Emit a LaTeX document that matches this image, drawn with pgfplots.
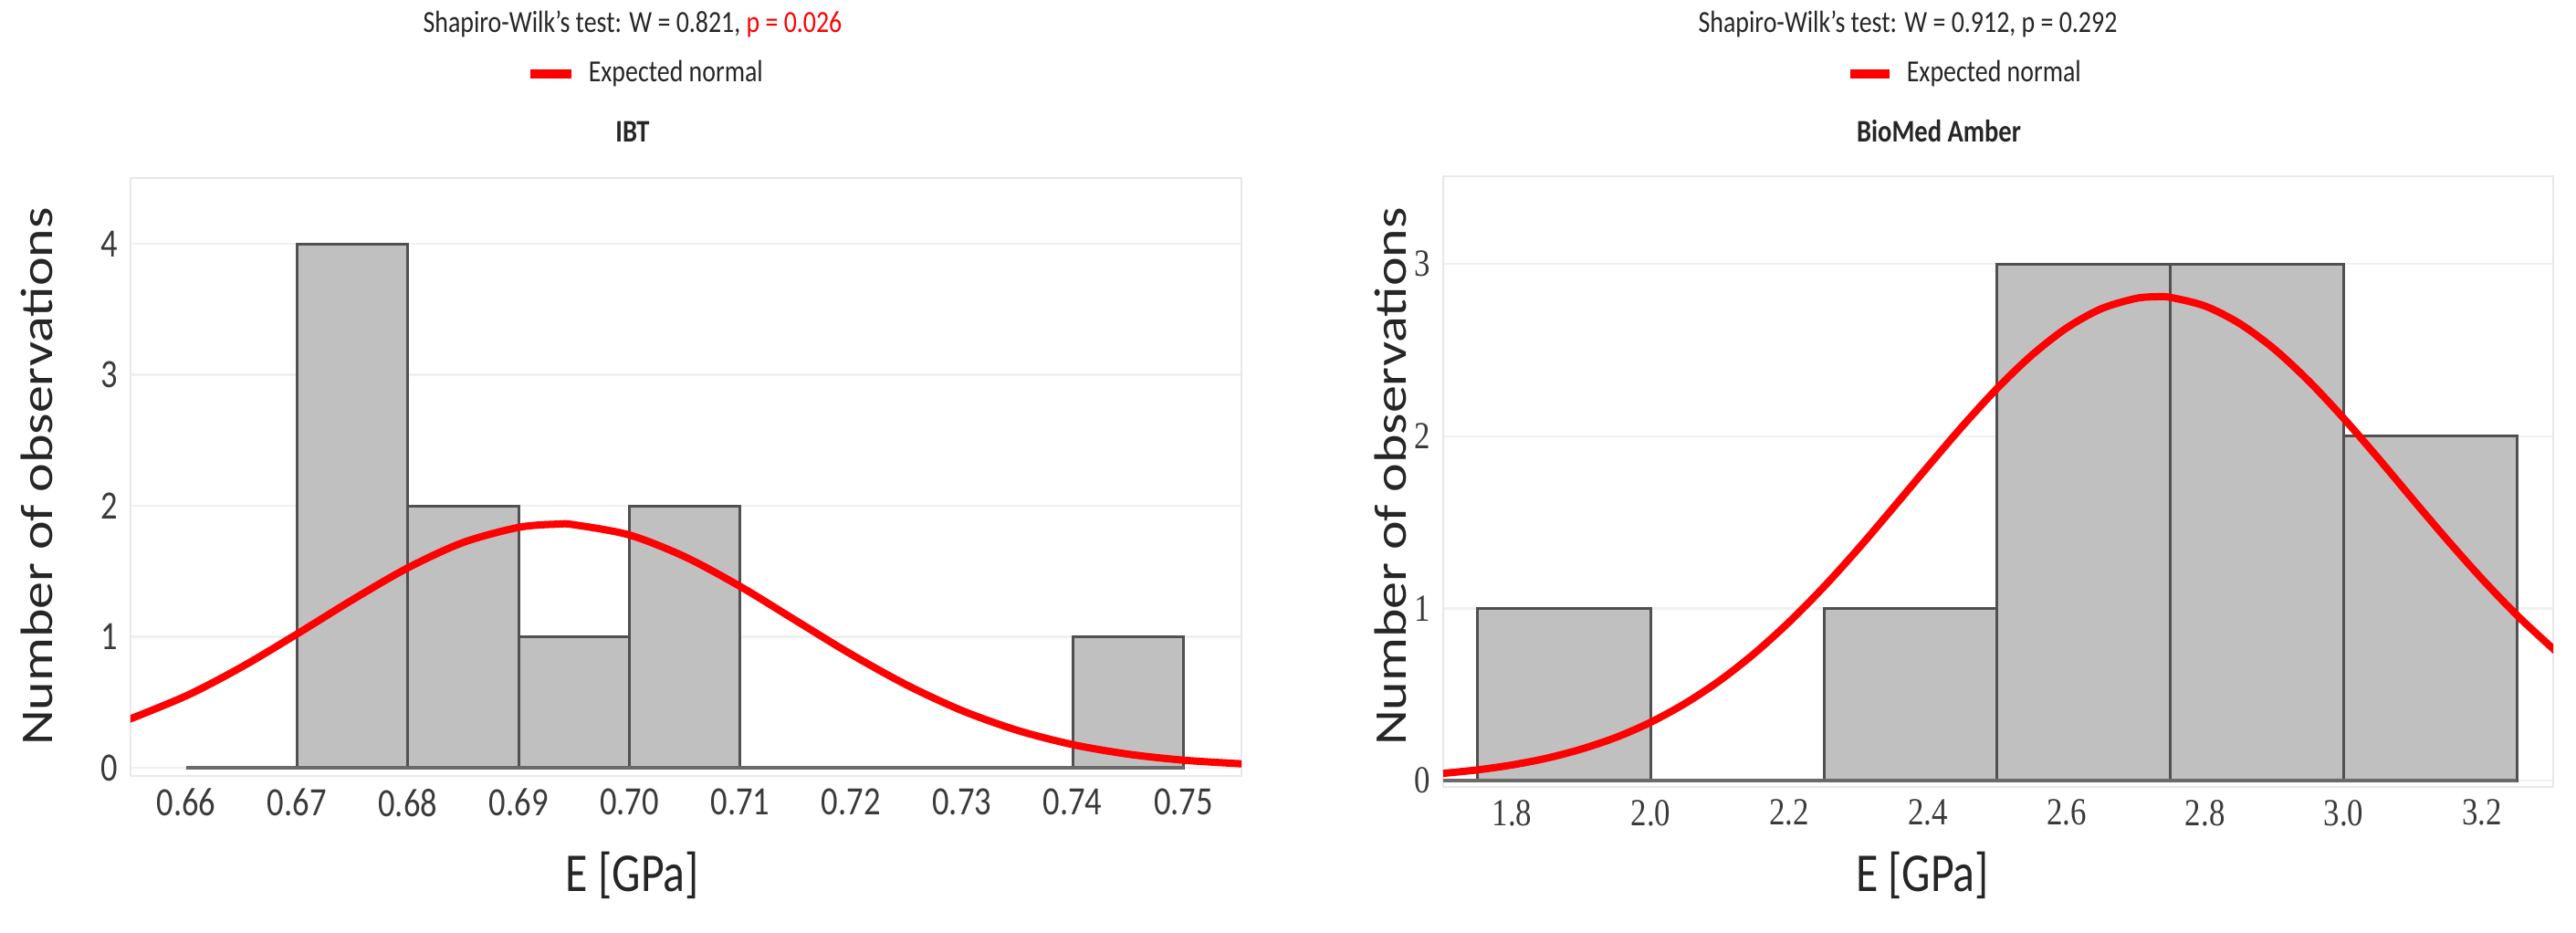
\documentclass[border=0pt]{standalone}
\usepackage{fontspec}
\setmainfont{Carlito}
\newfontfamily\seriffont{Liberation Serif}
\usepackage{graphicx}
\usepackage{pgfplots}
\pgfplotsset{compat=1.18}
\newcommand\sq[1]{\scalebox{0.83}[1]{#1}}
\newcommand\sqv[1]{\scalebox{1}[0.83]{#1}}
\definecolor{barfill}{HTML}{C0C0C0}
\definecolor{baredge}{HTML}{505050}
\definecolor{basec}{HTML}{6A6A6A}
\definecolor{framec}{HTML}{E8E8E8}
\definecolor{gridc}{HTML}{F0F0F0}
\definecolor{tickc}{HTML}{3A3A3A}
\definecolor{txtc}{HTML}{262626}
\definecolor{redc}{HTML}{FF0000}
\begin{document}
\begin{tikzpicture}
\useasboundingbox (0,0) rectangle (705.5pt,255.25pt);
\pgfplotsset{
  hist/.style={
    scale only axis,
    anchor=south west,
    axis line style={draw=framec, line width=0.6pt},
    major tick length=0pt,
    ymajorgrids,
    grid style={draw=gridc, line width=0.6pt},
    clip=true,
  }
}
% ---------------- left: IBT ----------------
\begin{axis}[hist,
  at={(35.75pt,42.75pt)}, width=304.25pt, height=163.75pt,
  xmin=0.65498, xmax=0.75523, ymin=-0.0627, ymax=4.502,
  xtick={0.66,0.67,0.68,0.69,0.70,0.71,0.72,0.73,0.74,0.75},
  xticklabels={\sq{0.66},\sq{0.67},\sq{0.68},\sq{0.69},\sq{0.70},\sq{0.71},\sq{0.72},\sq{0.73},\sq{0.74},\sq{0.75}},
  ytick={0,1,2,3,4},
  yticklabels={\sq{0},\sq{1},\sq{2},\sq{3},\sq{4}},
  ticklabel style={font=\fontsize{11}{13}\selectfont, text=tickc},
]
\addplot[ybar interval, fill=barfill, draw=baredge, line width=0.75pt]
  coordinates {(0.66,0) (0.67,4) (0.68,2) (0.69,1) (0.70,2) (0.71,0) (0.72,0) (0.73,0) (0.74,1) (0.75,0)};
\addplot[draw=basec, line width=1.2pt] coordinates {(0.66,0) (0.75,0)};
\addplot[redc, line width=2pt, smooth] coordinates {
(0.654,0.341) (0.660,0.549) (0.665,0.769) (0.670,1.021) (0.675,1.282)
(0.680,1.526) (0.685,1.720) (0.690,1.835) (0.6935,1.860) (0.695,1.855)
(0.700,1.777) (0.705,1.611) (0.710,1.384) (0.715,1.125) (0.720,0.867)
(0.725,0.633) (0.730,0.437) (0.735,0.286) (0.740,0.177) (0.745,0.104)
(0.750,0.058) (0.7555,0.029)};
\end{axis}
% ---------------- right: BioMed Amber ----------------
\begin{axis}[hist,
  at={(395.25pt,39.75pt)}, width=304pt, height=167.25pt,
  xmin=1.7004, xmax=3.3025, ymin=-0.037, ymax=3.51,
  xtick={1.8,2.0,2.2,2.4,2.6,2.8,3.0,3.2},
  xticklabels={\sq{1.8},\sq{2.0},\sq{2.2},\sq{2.4},\sq{2.6},\sq{2.8},\sq{3.0},\sq{3.2}},
  ytick={0,1,2,3},
  yticklabels={\sq{0},\sq{1},\sq{2},\sq{3}},
  ticklabel style={font=\seriffont\fontsize{10.5}{12}\selectfont, text=tickc},
]
\addplot[ybar interval, fill=barfill, draw=baredge, line width=0.75pt]
  coordinates {(1.75,1) (2.0,0) (2.25,1) (2.5,3) (2.75,3) (3.0,2) (3.25,0)};
\addplot[draw=basec, line width=1.2pt] coordinates {(1.70,0) (3.25,0)};
\addplot[redc, line width=2pt, smooth] coordinates {
(1.69,0.0385) (1.70,0.0418) (1.75,0.0622) (1.80,0.0909) (1.85,0.130) (1.90,0.183)
(1.95,0.251) (2.00,0.339) (2.05,0.449) (2.10,0.582) (2.15,0.740)
(2.20,0.922) (2.25,1.126) (2.30,1.349) (2.35,1.585) (2.40,1.824)
(2.45,2.059) (2.50,2.278) (2.55,2.471) (2.60,2.628) (2.65,2.740)
(2.70,2.800) (2.73,2.810) (2.75,2.806) (2.80,2.756) (2.85,2.654)
(2.90,2.506) (2.95,2.319) (3.00,2.104) (3.05,1.872) (3.10,1.632)
(3.15,1.396) (3.20,1.170) (3.25,0.961) (3.30,0.774) (3.31,0.740)};
\end{axis}
% ---------------- titles, legends, labels ----------------
\tikzset{t/.style={inner sep=0pt, text=txtc}}
\node[t, font=\fontsize{8.4}{10}\selectfont] at (173.25pt,248.75pt)
  {\sq{Shapiro-Wilk's test: W = 0.821, {\color{redc}p = 0.026}}};
\node[t, font=\fontsize{8.4}{10}\selectfont] at (522.5pt,248.75pt)
  {\sq{Shapiro-Wilk's test: W = 0.912, p = 0.292}};
\draw[redc, line width=2.5pt] (145.25pt,235pt) -- (156.5pt,235pt);
\node[t, anchor=west, font=\fontsize{8.4}{10}\selectfont] at (161pt,235pt) {\sq{Expected normal}};
\draw[redc, line width=2.5pt] (506.75pt,235pt) -- (517.5pt,235pt);
\node[t, anchor=west, font=\fontsize{8.4}{10}\selectfont] at (522pt,235pt) {\sq{Expected normal}};
\node[t, font=\bfseries\fontsize{8.6}{10}\selectfont] at (173.25pt,219.25pt) {\sq{IBT}};
\node[t, font=\bfseries\fontsize{8.6}{10}\selectfont] at (531pt,219.25pt) {\sq{BioMed Amber}};
\node[t, rotate=90, font=\fontsize{15}{17}\selectfont] at (10pt,124.75pt) {\sqv{Number of observations}};
\node[t, rotate=90, font=\fontsize{15}{17}\selectfont] at (380.75pt,124.75pt) {\sqv{Number of observations}};
\node[t, font=\fontsize{15}{17}\selectfont] at (173.25pt,15.5pt) {\sq{E [GPa]}};
\node[t, font=\fontsize{15}{17}\selectfont] at (526.5pt,15.5pt) {\sq{E [GPa]}};
\end{tikzpicture}
\end{document}
